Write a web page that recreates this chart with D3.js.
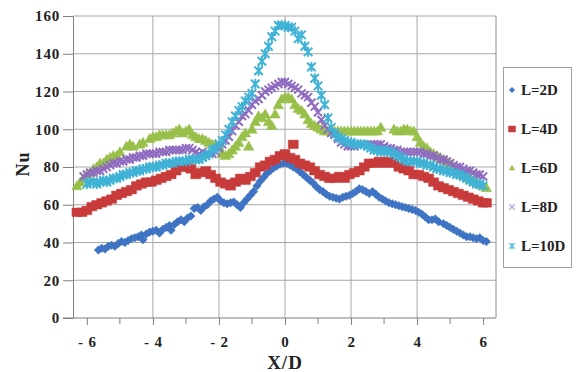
<!DOCTYPE html>
<html><head><meta charset="utf-8">
<script src="https://cdn.jsdelivr.net/npm/d3@7/dist/d3.min.js"></script>
<style>
body{margin:0;background:#fff;}
text{font-family:"Liberation Serif","Times New Roman",serif;font-weight:bold;fill:#222;}
</style></head><body>
<svg id="c" width="576" height="372"></svg>
<script>
// ---- data ----
const xTickValues = [-6,-4,-2,0,2,4,6];
const xTickLabels = ["- 6","- 4","- 2","0","2","4","6"];
const xMinorTicks = [-5,-3,-1,1,3,5];
const yTickValues = [0,20,40,60,80,100,120,140,160];
const xGridValues = [-4,-2,0,2,4];
const seriesNames = ["L=2D","L=4D","L=6D","L=8D","L=10D"];
const seriesColors = ["#3F74C4","#C83B3B","#98C04A","#8F6CC0","#3FB2D6"];
const legendColors = ["#3F74C4","#C83B3B","#98C04A","#B7A6D6","#5CC0DC"];

const L2D = [[-5.65,36],[-5.55,37],[-5.45,36.5],[-5.35,38],[-5.25,38.5],[-5.15,38],[-5.05,39.5],[-4.95,40.5],[-4.85,40],[-4.75,41],[-4.65,42],[-4.55,42.5],[-4.45,43],[-4.35,44],[-4.3,41.5],[-4.2,44.5],[-4.1,45.5],[-4.0,46],[-3.9,46.5],[-3.8,45],[-3.7,47],[-3.6,48],[-3.5,49],[-3.45,46.5],[-3.35,49.5],[-3.25,51],[-3.15,52],[-3.05,51],[-2.95,53],[-2.85,54],[-2.75,58],[-2.65,58.5],[-2.55,57],[-2.45,59],[-2.35,60],[-2.25,62],[-2.15,63],[-2.05,64],[-1.95,62],[-1.85,61],[-1.75,60.5],[-1.65,61],[-1.55,61.5],[-1.45,60],[-1.35,58.5],[-1.25,61],[-1.15,63],[-1.05,65],[-0.95,67],[-0.85,70],[-0.75,72.5],[-0.65,74.5],[-0.55,76.5],[-0.45,78],[-0.35,79.5],[-0.25,80.5],[-0.15,81.5],[-0.05,82],[0.05,82],[0.15,81],[0.25,80],[0.35,79],[0.45,77.5],[0.55,76],[0.65,74.5],[0.75,73],[0.85,71.5],[0.95,69.5],[1.05,68],[1.15,67],[1.25,65.5],[1.35,64.5],[1.45,64],[1.55,63.5],[1.65,63],[1.75,64],[1.85,64.5],[1.95,65],[2.05,66],[2.15,67],[2.25,68.5],[2.35,68],[2.45,67],[2.55,66],[2.65,67],[2.75,65.5],[2.85,64],[2.95,63],[3.05,62],[3.15,61],[3.25,60.5],[3.35,60],[3.45,59.5],[3.55,59],[3.65,58.5],[3.75,58],[3.85,57.5],[3.95,57],[4.05,56],[4.15,55],[4.25,53.5],[4.35,52],[4.45,52],[4.55,52.5],[4.65,51],[4.8,50],[4.9,49],[5.0,48],[5.1,47],[5.2,46],[5.3,45],[5.4,44],[5.5,43],[5.6,43],[5.7,42.5],[5.8,42],[5.9,42.5],[6.0,41],[6.1,40.5]];

const L4D = [[-6.3,56],[-6.15,56],[-6.0,57],[-5.85,59],[-5.7,60],[-5.55,61],[-5.4,62],[-5.25,63],[-5.1,65],[-4.95,66],[-4.8,67],[-4.65,68],[-4.5,70],[-4.35,71],[-4.2,72],[-4.05,72],[-3.9,73],[-3.75,74],[-3.6,75],[-3.45,76],[-3.3,78],[-3.15,80],[-3.0,80],[-2.85,79],[-2.7,76],[-2.55,77],[-2.4,78],[-2.25,76],[-2.1,74],[-1.95,72],[-1.8,71],[-1.65,70],[-1.5,72],[-1.35,74],[-1.2,73],[-1.05,75],[-0.9,77],[-0.75,80],[-0.6,81],[-0.45,83],[-0.3,84],[-0.15,86],[0,87],[0.15,85],[0.25,92],[0.3,84],[0.45,82],[0.6,81],[0.75,80],[0.9,78],[1.05,76],[1.2,75],[1.35,74],[1.5,74],[1.65,75],[1.8,74],[1.95,76],[2.1,77],[2.25,78],[2.4,80],[2.55,82],[2.7,82],[2.85,83],[3.0,82],[3.15,83],[3.3,82],[3.45,80],[3.6,79],[3.75,78],[3.9,76],[4.05,76],[4.2,75],[4.35,74],[4.5,72],[4.65,70],[4.8,69],[4.95,68],[5.1,67],[5.25,66],[5.4,65],[5.55,64],[5.7,63],[5.85,62],[6.0,61],[6.1,61]];

const L6D = [[-6.3,70],[-6.2,72],[-6.1,74],[-6.0,76],[-5.9,77],[-5.8,79],[-5.7,80],[-5.6,82],[-5.5,82],[-5.4,84],[-5.3,85],[-5.2,86],[-5.1,86],[-5.0,88],[-4.8,91],[-4.7,92],[-4.6,91],[-4.4,92],[-4.3,93],[-4.1,95],[-4.0,96],[-3.9,96],[-3.8,97],[-3.7,97],[-3.6,97],[-3.5,97],[-3.4,98],[-3.3,99],[-3.2,100],[-3.1,98],[-3.0,99],[-2.9,100],[-2.8,97],[-2.7,96],[-2.6,95],[-2.5,95],[-2.4,94],[-2.3,93],[-2.2,92],[-2.1,92],[-2.0,91],[-1.9,87],[-1.8,86],[-1.7,87],[-1.6,89],[-1.5,91],[-1.1,91],[-1.4,93],[-1.3,96],[-1.2,98],[-1.0,100],[-0.9,104],[-0.8,107],[-0.7,106],[-0.6,108],[-0.5,104],[-0.4,102],[-0.3,108],[-0.2,113],[-0.1,116],[0,117],[0.1,117],[0.2,116],[0.3,113],[0.4,111],[0.5,110],[0.6,108],[0.7,105],[0.8,103],[0.9,102],[1.0,101],[1.1,100],[1.2,99],[1.3,99],[1.4,99],[1.5,99],[1.6,99],[1.7,99],[1.8,99],[1.9,99],[2.0,99],[2.1,99],[2.2,99],[2.3,99],[2.4,99],[2.5,99],[2.6,99],[2.7,99],[2.8,99],[2.9,101],[3.3,100],[3.4,99],[3.5,99],[3.6,100],[3.7,100],[3.8,99],[3.9,99],[4.0,96],[4.1,93],[4.2,91],[4.3,90],[4.4,88],[4.5,87],[4.6,86],[4.7,85],[4.8,84],[4.9,83],[5.0,82],[5.1,80],[5.2,78],[5.3,77],[5.4,76],[5.5,75],[5.6,74],[5.7,73],[5.8,72],[5.9,71],[6.0,70],[6.1,69]];

const L8D = [[-6.1,75],[-6.0,76],[-5.9,77],[-5.8,77],[-5.7,78],[-5.6,78],[-5.5,79],[-5.4,80],[-5.3,81],[-5.2,82],[-5.1,82],[-5.0,83],[-4.9,83],[-4.8,84],[-4.7,84],[-4.6,85],[-4.5,85],[-4.4,86],[-4.3,86],[-4.2,87],[-4.1,87],[-4.0,87],[-3.9,87],[-3.8,88],[-3.7,88],[-3.6,88],[-3.5,89],[-3.4,89],[-3.3,89],[-3.2,89],[-3.1,89],[-3.0,90],[-2.9,90],[-2.8,89],[-2.7,88],[-2.6,87],[-2.5,88],[-2.4,87],[-2.3,87],[-2.2,87],[-2.1,88],[-2.0,90],[-1.9,92],[-1.8,94],[-1.7,96],[-1.6,99],[-1.5,102],[-1.4,104],[-1.3,107],[-1.2,108],[-1.1,110],[-1.0,113],[-0.9,115],[-0.8,116],[-0.7,118],[-0.6,120],[-0.5,121],[-0.4,122],[-0.3,123],[-0.2,124],[-0.1,125],[0,125],[0.1,124],[0.2,123],[0.3,122],[0.4,121],[0.5,119],[0.6,118],[0.7,117],[0.8,114],[0.9,112],[1.0,109],[1.1,105],[1.2,102],[1.3,100],[1.4,98],[1.5,97],[1.6,95],[1.7,93],[1.8,92],[1.9,91],[2.0,91],[2.1,91],[2.2,92],[2.3,92],[2.4,92],[2.5,92],[2.6,92],[2.7,92],[2.8,92],[2.9,92],[3.0,91],[3.1,90],[3.2,90],[3.3,89],[3.4,89],[3.5,88],[3.6,88],[3.7,88],[3.8,88],[3.9,88],[4.0,88],[4.1,88],[4.2,87],[4.3,87],[4.4,86],[4.5,86],[4.6,85],[4.7,84],[4.8,84],[4.9,83],[5.0,82],[5.1,81],[5.2,80],[5.3,80],[5.4,79],[5.5,78],[5.6,78],[5.7,77],[5.8,76],[5.9,76],[6.0,75]];

const L10D = [[-6.0,71],[-5.9,72],[-5.8,72],[-5.7,71],[-5.6,72],[-5.5,73],[-5.4,72],[-5.3,73],[-5.2,74],[-5.1,74],[-5.0,75],[-4.9,76],[-4.8,76],[-4.7,77],[-4.6,77],[-4.5,78],[-4.4,78],[-4.3,79],[-4.2,79],[-4.1,80],[-4.0,80],[-3.9,80],[-3.8,81],[-3.7,81],[-3.6,82],[-3.5,82],[-3.4,82],[-3.3,83],[-3.2,83],[-3.1,83],[-3.0,83],[-2.9,84],[-2.8,84],[-2.7,84],[-2.6,84],[-2.5,85],[-2.4,86],[-2.3,87],[-2.2,89],[-2.1,90],[-2.0,92],[-1.9,94],[-1.8,97],[-1.7,100],[-1.6,104],[-1.5,107],[-1.4,110],[-1.3,112],[-1.2,115],[-1.1,117],[-1.0,119],[-0.9,124],[-0.8,131],[-0.7,136],[-0.6,140],[-0.5,144],[-0.4,149],[-0.3,152],[-0.2,155],[-0.1,155],[0,155],[0.1,154],[0.2,154],[0.3,152],[0.4,148],[0.5,150],[0.6,144],[0.7,141],[0.8,133],[0.9,127],[1.0,123],[1.1,118],[1.2,113],[1.3,106],[1.4,101],[1.5,98],[1.6,96],[1.7,95],[1.8,94],[1.9,93],[2.0,93],[2.1,92],[2.2,92],[2.3,92],[2.4,92],[2.5,91],[2.6,90],[2.7,89],[2.8,89],[2.9,88],[3.0,89],[3.1,88],[3.2,88],[3.3,87],[3.4,86],[3.5,85],[3.6,84],[3.7,83],[3.8,83],[3.9,83],[4.0,83],[4.1,82],[4.2,82],[4.3,81],[4.4,81],[4.5,80],[4.6,79],[4.7,79],[4.8,78],[4.9,78],[5.0,77],[5.1,77],[5.2,76],[5.3,76],[5.4,75],[5.5,74],[5.6,73],[5.7,72],[5.8,71],[5.9,71],[6.0,70]];

const allSeries = [L2D, L4D, L6D, L8D, L10D];

// ---- layout ----
const svg = d3.select("#c");
const x = d3.scaleLinear().domain([-6.42, 6.39]).range([73, 496]);
const y = d3.scaleLinear().domain([0, 160]).range([318, 16]);

// gridlines
svg.append("g").selectAll("line.h").data(yTickValues.filter(v=>v>0)).join("line")
  .attr("x1", x.range()[0]).attr("x2", x.range()[1])
  .attr("y1", d=>y(d)).attr("y2", d=>y(d))
  .attr("stroke","#a8a8a8").attr("stroke-width",1);
svg.append("g").selectAll("line.v").data(xGridValues).join("line")
  .attr("x1", d=>x(d)).attr("x2", d=>x(d))
  .attr("y1", y.range()[0]).attr("y2", y.range()[1])
  .attr("stroke","#a8a8a8").attr("stroke-width",1);
// frame right
svg.append("line").attr("x1",x.range()[1]).attr("x2",x.range()[1]).attr("y1",y.range()[0]).attr("y2",y.range()[1]).attr("stroke","#909090");

// axes
const yAxis = d3.axisLeft(y).tickValues(yTickValues).tickSize(10).tickPadding(3).tickFormat(d3.format("d"));
const gy = svg.append("g").attr("transform",`translate(${x.range()[0]},0)`).call(yAxis);
gy.select(".domain").attr("stroke","#808080");
gy.selectAll(".tick line").attr("stroke","#808080");
gy.selectAll(".tick text").style("font-size","15px").style("letter-spacing","0.8px").attr("fill","#222");

const xAxis = d3.axisBottom(x).tickValues(xTickValues).tickSize(7).tickPadding(11)
  .tickFormat((d,i)=>xTickLabels[i]);
const gx = svg.append("g").attr("transform",`translate(0,${y.range()[0]})`).call(xAxis);
gx.select(".domain").attr("stroke","#808080").attr("d",`M${x.range()[0]-10},0H${x.range()[1]}`);
gx.selectAll(".tick line").attr("stroke","#808080");
gx.selectAll(".tick text").style("font-size","15px").style("letter-spacing","0.8px").attr("fill","#222");
svg.append("g").attr("transform",`translate(0,${y.range()[0]})`)
  .selectAll("line").data(xMinorTicks).join("line")
  .attr("x1",d=>x(d)).attr("x2",d=>x(d)).attr("y1",0).attr("y2",6).attr("stroke","#808080");

// axis titles
svg.append("text").attr("x", x(0)).attr("y", 369).attr("text-anchor","middle")
  .style("font-size","19px").style("letter-spacing","1px").text("X/D");
svg.append("text").attr("transform","translate(29,164) rotate(-90)").attr("text-anchor","middle")
  .style("font-size","18px").style("letter-spacing","1px").text("Nu");

// marker paths
function markerPath(type, s){
  const h = s/2;
  if(type===0) return `M0,${-h}L${h},0L0,${h}L${-h},0Z`;
  if(type===1) return `M${-h},${-h*0.85}H${h}V${h*0.85}H${-h}Z`;
  if(type===2) return `M0,${-h}L${h},${h*0.75}H${-h}Z`;
  if(type===3) return `M${-h},${-h}L${h},${h}M${-h},${h}L${h},${-h}`;
  return `M${-h},${-h}L${h},${h}M${-h},${h}L${h},${-h}M0,${-h*1.15}V${h*1.15}`;
}
const markerSizes = [8.5, 10, 10.5, 8, 8.5];

allSeries.forEach((data, i)=>{
  const g = svg.append("g");
  const isLine = (i>=3);
  g.selectAll("path").data(data).join("path")
    .attr("d", markerPath(i, markerSizes[i]))
    .attr("transform", d=>`translate(${x(d[0])},${y(d[1])})`)
    .attr("fill", isLine ? "none" : seriesColors[i])
    .attr("stroke", seriesColors[i])
    .attr("stroke-width", isLine ? 2 : 0.5);
});

// legend
const lg = svg.append("g");
lg.append("rect").attr("x",503.5).attr("y",67.5).attr("width",68).attr("height",200)
  .attr("fill","#fff").attr("stroke","#a0a0a0");
const legY = [90,129,168,207,246];
seriesNames.forEach((n,i)=>{
  const isLine = (i>=3);
  lg.append("path").attr("d", markerPath(i, i===1?7:5.5))
    .attr("transform",`translate(512,${legY[i]})`)
    .attr("fill", isLine ? "none" : legendColors[i])
    .attr("stroke", legendColors[i]).attr("stroke-width", isLine?1.3:0.5);
  lg.append("text").attr("x",521).attr("y",legY[i]+5).style("font-size","15px").text(n);
});
</script>
</body></html>
